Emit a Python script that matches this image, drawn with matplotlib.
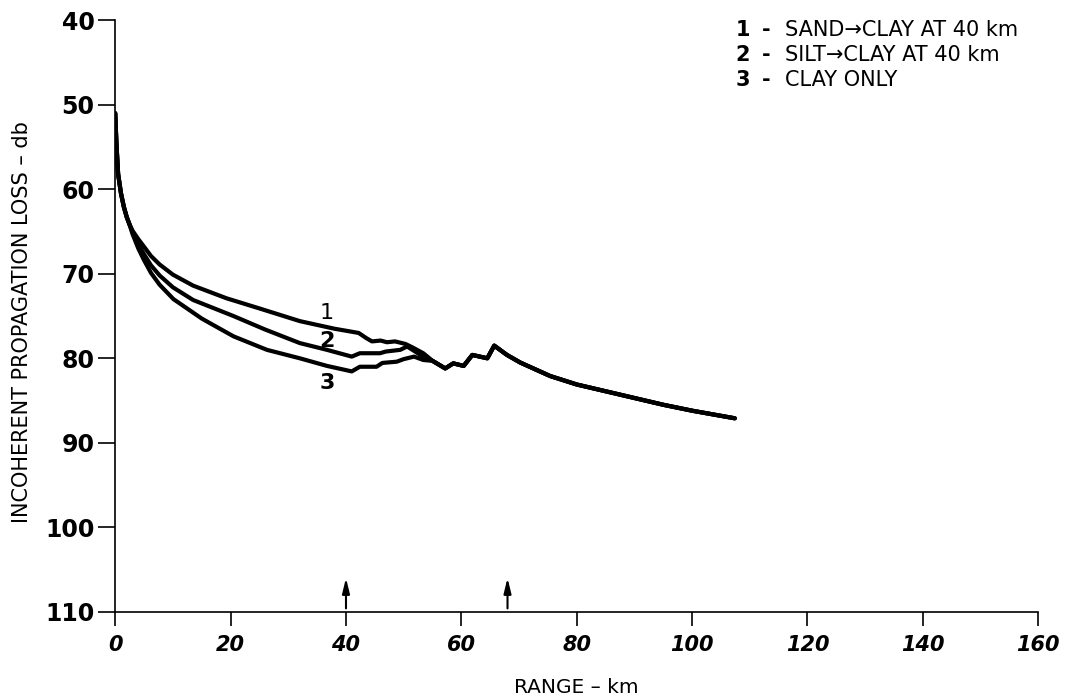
import numpy as np
import matplotlib
matplotlib.use("Agg")
import matplotlib.pyplot as plt

plt.rcParams['font.family'] = ['DejaVu Sans']

# shared near-field part (0 - 2.5 km)
start_km = [0, 0.2, 0.5, 1.0, 1.5, 2.0, 2.5]
start_db = [51.0, 54.5, 58.2, 60.5, 62.1, 63.3, 64.2]

# curve 1 - sand -> clay at 40 km
sand_km = [3.0, 4.0, 5, 6.2, 7.7, 10, 13.5, 19.3, 25, 32, 38, 42.2, 43.5, 44.5, 46, 47.1, 48.5, 50.3, 51.5, 53.4]
sand_db = [64.9, 65.9, 66.8, 67.9, 68.9, 70.1, 71.4, 72.9, 74.1, 75.6, 76.5, 77.0, 77.6, 78.0, 77.9, 78.1, 78.0, 78.3, 78.7, 79.4]

# curve 2 - silt -> clay at 40 km
silt_km = [3.0, 4.0, 5, 6.2, 7.7, 10, 13.5, 20.5, 26, 32, 36.7, 41.0, 42.4, 45.9, 46.9, 49.4, 50.6, 52.9]
silt_db = [65.1, 66.5, 67.7, 69.0, 70.2, 71.6, 73.1, 75.0, 76.6, 78.2, 79.0, 79.8, 79.4, 79.4, 79.2, 79.0, 78.6, 79.6]

# curve 3 - clay only
clay_km = [3.0, 4.0, 5, 6.2, 7.7, 10.1, 15, 20.5, 26.3, 32, 36.7, 41.0, 42.4, 45.3, 46.3, 48.8, 50.0, 51.8, 53.4]
clay_db = [65.3, 67.0, 68.4, 69.9, 71.3, 73.0, 75.3, 77.4, 79.0, 80.0, 80.9, 81.55, 81.0, 81.0, 80.55, 80.4, 80.1, 79.8, 80.2]

# shared far part (all clay)
tail_km = [55, 57.2, 58.6, 60.4, 61.9, 64.5, 65.7, 67.9, 70.2, 75.4, 80, 85, 90, 95, 100, 107.4]
tail_db = [80.3, 81.2, 80.6, 80.9, 79.6, 80.0, 78.5, 79.6, 80.5, 82.1, 83.1, 83.9, 84.7, 85.5, 86.2, 87.1]

arrow_km = [40, 68]

legend_nums = ['1', '2', '3']
legend_txt = ['SAND\u2192CLAY AT 40 km', 'SILT\u2192CLAY AT 40 km', 'CLAY ONLY']

fig = plt.figure(figsize=(10.77, 7), dpi=100)
ax = fig.add_axes([0.107, 0.126, 0.857, 0.845])

for km, db in [(sand_km, sand_db), (silt_km, silt_db), (clay_km, clay_db)]:
    x = start_km + km + tail_km
    y = start_db + db + tail_db
    ax.plot(x, y, color='black', linewidth=3, solid_capstyle='round', solid_joinstyle='round')

# curve numbers
ax.text(36.7, 74.6, '1', fontsize=16, ha='center', va='center')
ax.text(36.7, 77.9, '2', fontsize=16, fontweight='bold', ha='center', va='center')
ax.text(36.7, 82.9, '3', fontsize=16, fontweight='bold', ha='center', va='center')

for a in arrow_km:
    ax.annotate('', xy=(a, 106.0), xytext=(a, 109.6),
                arrowprops=dict(arrowstyle='-|>,head_length=0.9,head_width=0.22',
                                color='black', lw=1.5, shrinkA=0, shrinkB=0))

ax.set_xlim(0, 160)
ax.set_ylim(110, 40)
ax.set_xticks(np.arange(0, 161, 20))
ax.set_yticks(np.arange(40, 111, 10))
ax.set_xticklabels([str(v) for v in range(0, 161, 20)], fontsize=15,
                   fontweight='bold', style='italic')
ax.set_yticklabels([str(v) for v in range(40, 111, 10)], fontsize=17, fontweight='bold')
ax.tick_params(axis='y', direction='out', length=12, width=1.2, pad=3)
ax.tick_params(axis='x', direction='out', length=10, width=1.2, pad=7)

for s in ['top', 'right']:
    ax.spines[s].set_visible(False)
for s in ['left', 'bottom']:
    ax.spines[s].set_linewidth(1.2)

ax.set_xlabel('RANGE \u2013 km', fontsize=14.5)
ax.xaxis.set_label_coords(0.5, -0.112)
ax.set_ylabel('INCOHERENT PROPAGATION LOSS \u2013 db', fontsize=15)
ax.yaxis.set_label_coords(-0.09, 0.49)

rows_y = [0.957, 0.921, 0.886]
for n, t, yy in zip(legend_nums, legend_txt, rows_y):
    fig.text(0.683, yy, n, fontsize=15, fontweight='bold', va='center')
    fig.text(0.707, yy, '-', fontsize=15, fontweight='bold', va='center')
    fig.text(0.729, yy, t, fontsize=15, va='center')

fig.savefig('out.png', dpi=100)
